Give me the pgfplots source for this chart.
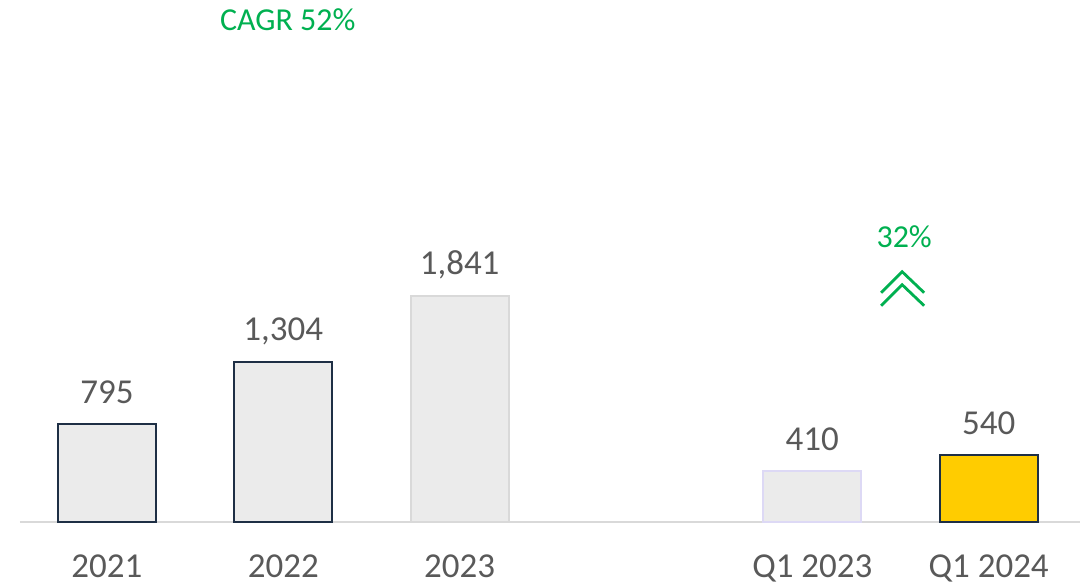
\documentclass[border=0pt]{standalone}
\usepackage{fontspec}
\setmainfont{Carlito}
\usepackage{pgfplots}
\pgfplotsset{compat=1.18}
\definecolor{txt}{HTML}{595959}
\definecolor{grn}{HTML}{00B050}
\definecolor{barfill}{HTML}{EBEBEB}
\definecolor{navy}{HTML}{1E2F45}
\definecolor{lgray}{HTML}{D9D9D9}
\definecolor{lav}{HTML}{DDD9F5}
\definecolor{gold}{HTML}{FFCC00}
\begin{document}
\begin{tikzpicture}
\path (0,0) rectangle (540.5pt,292pt);
\begin{axis}[
  at={(10pt,31pt)}, anchor=south west,
  scale only axis, width=530.5pt, height=261pt,
  xmin=-0.493, xmax=5.518, ymin=0, ymax=4252,
  axis x line*=bottom, axis y line=none,
  x axis line style={-, draw=lgray, line width=1pt},
  xtick={0,1,2,4,5},
  xticklabels={2021,2022,2023,Q1 2023,Q1 2024},
  major tick length=0pt,
  xticklabel style={font=\fontsize{17.5}{20}\selectfont, text=txt, anchor=base, inner sep=0pt, yshift=-28pt},
  /pgf/number format/assume math mode=true,
  /pgf/number format/1000 sep={,},
  nodes near coords,
  nodes near coords style={font=\fontsize{17.5}{20}\selectfont, text=txt, anchor=base, inner sep=0pt, yshift=10.5pt},
  clip=false,
]
\addplot[ybar, bar shift=0pt, bar width=49pt, fill=barfill, draw=navy, line width=1pt] coordinates {(0,795)};
\addplot[ybar, bar shift=0pt, bar width=49pt, fill=barfill, draw=navy, line width=1pt] coordinates {(1,1304)};
\addplot[ybar, bar shift=0pt, bar width=49pt, fill=barfill, draw=lgray, line width=1pt] coordinates {(2,1841)};
\addplot[ybar, bar shift=0pt, bar width=49pt, fill=barfill, draw=lav, line width=1pt] coordinates {(4,410)};
\addplot[ybar, bar shift=0pt, bar width=49pt, fill=gold, draw=navy, line width=1pt] coordinates {(5,540)};
\end{axis}
\node[text=grn, inner sep=0pt, font=\fontsize{16}{18}\selectfont] at (144pt,282pt) {CAGR 52\%};
\node[text=grn, inner sep=0pt, font=\fontsize{16}{18}\selectfont] at (452.5pt,173.5pt) {32\%};
\draw[grn, line width=1.4pt] (441pt,145.5pt) -- (451.5pt,156pt) -- (462.5pt,145.5pt);
\draw[grn, line width=1.4pt] (441pt,139pt) -- (451.5pt,149.5pt) -- (462.5pt,139pt);
\end{tikzpicture}
\end{document}
